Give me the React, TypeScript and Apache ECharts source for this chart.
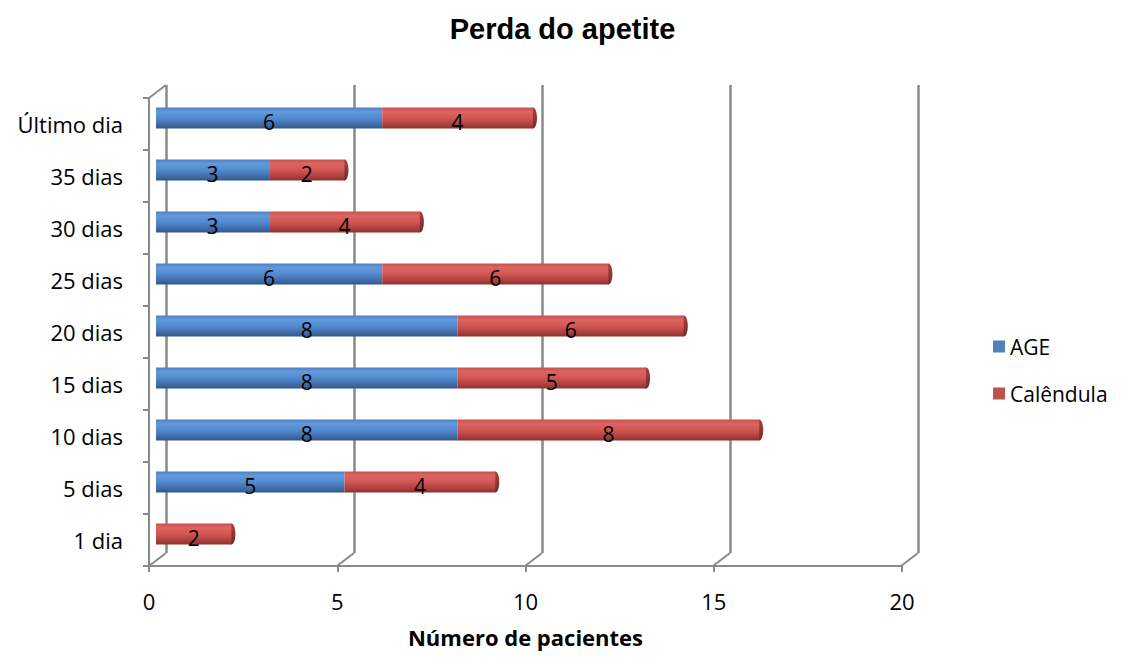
import React, { useEffect, useRef } from "react";
import * as echarts from "echarts";

// Categories listed bottom to top
const categories = [
  "1 dia",
  "5 dias",
  "10 dias",
  "15 dias",
  "20 dias",
  "25 dias",
  "30 dias",
  "35 dias",
  "Último dia",
];
const ageValues = [0, 5, 8, 8, 8, 6, 3, 3, 6];
const calendulaValues = [2, 4, 8, 5, 6, 6, 4, 2, 4];
const xTicks = [0, 5, 10, 15, 20];

const FONT = "'Open Sans', 'DejaVu Sans', sans-serif";
const WALL = "#8a8a8a";
// depth vector from the back wall to the front plane
const DEPTH = { dx: -17, dy: 13 };

const blueFill = new echarts.graphic.LinearGradient(0, 0, 0, 1, [
  { offset: 0, color: "#4d7fc0" },
  { offset: 0.2, color: "#6199dd" },
  { offset: 0.5, color: "#528acf" },
  { offset: 0.8, color: "#416dab" },
  { offset: 1, color: "#345789" },
]);
const redFill = new echarts.graphic.LinearGradient(0, 0, 0, 1, [
  { offset: 0, color: "#c4514e" },
  { offset: 0.2, color: "#de6461" },
  { offset: 0.5, color: "#d05754" },
  { offset: 0.8, color: "#ae403e" },
  { offset: 1, color: "#8a3230" },
]);
const capFill = new echarts.graphic.LinearGradient(0, 0, 0, 1, [
  { offset: 0, color: "#a3403e" },
  { offset: 0.5, color: "#8e3634" },
  { offset: 1, color: "#6e2927" },
]);

export default function App() {
  const ref = useRef<HTMLDivElement>(null);

  useEffect(() => {
    document.body.style.margin = "0";
    if (!ref.current) return;
    const chart = echarts.init(ref.current, null, { renderer: "svg" });

    const totals = categories.map((_, i) => [ageValues[i] + calendulaValues[i], i]);
    // floor connectors at each tick plus the top-left corner of the wall
    const wallEdges = xTicks.map((t) => [t, 0]).concat([[0, 1]]);

    const valueLabel = {
      show: true,
      position: "inside",
      color: "#000",
      fontFamily: FONT,
      fontSize: 21,
      offset: [0, 4],
      formatter: (p: any) => (p.value ? String(p.value) : ""),
    };

    chart.setOption({
      animation: false,
      backgroundColor: "#fff",
      title: {
        text: "Perda do apetite",
        left: "center",
        top: 9,
        textStyle: {
          fontFamily: "'Liberation Sans', Arial, sans-serif",
          fontWeight: "bold",
          fontSize: 29,
          color: "#000",
        },
      },
      legend: {
        orient: "vertical",
        left: 988,
        top: 331,
        itemWidth: 12,
        itemHeight: 12,
        itemGap: 26,
        icon: "rect",
        textStyle: { fontFamily: FONT, fontSize: 21, color: "#000" },
        data: [
          { name: "AGE", itemStyle: { color: "#4f81bd" } },
          { name: "Calêndula", itemStyle: { color: "#c0504d" } },
        ],
      },
      grid: [
        // back wall
        { left: 166, top: 85, width: 752, height: 468 },
        // front plane with the axes
        { left: 149, top: 98, width: 753, height: 468 },
        // cylinders
        { left: 156, top: 92, width: 754, height: 468 },
      ],
      xAxis: [
        {
          gridIndex: 0,
          type: "value",
          min: 0,
          max: 20,
          interval: 5,
          axisLine: { show: false },
          axisTick: { show: false },
          axisLabel: { show: false },
          splitLine: { show: true, lineStyle: { color: WALL, width: 2.5 } },
        },
        {
          gridIndex: 1,
          type: "value",
          min: 0,
          max: 20,
          interval: 5,
          axisLine: { show: true, lineStyle: { color: WALL, width: 2 } },
          axisTick: { show: true, length: 6, lineStyle: { color: WALL, width: 2 } },
          axisLabel: { color: "#000", fontFamily: FONT, fontSize: 22, margin: 24 },
          splitLine: { show: false },
          name: "Número de pacientes",
          nameLocation: "middle",
          nameGap: 60,
          nameTextStyle: { color: "#000", fontFamily: FONT, fontSize: 22, fontWeight: "bold" },
        },
        {
          gridIndex: 2,
          type: "value",
          min: 0,
          max: 20,
          show: false,
        },
      ],
      yAxis: [
        { gridIndex: 0, type: "value", min: 0, max: 1, show: false },
        {
          gridIndex: 1,
          type: "category",
          data: categories,
          axisLine: { show: true, lineStyle: { color: WALL, width: 2 } },
          axisTick: { show: true, length: 6, lineStyle: { color: WALL, width: 2 } },
          axisLabel: { color: "#000", fontFamily: FONT, fontSize: 22, margin: 26 },
        },
        { gridIndex: 2, type: "category", data: categories, show: false },
      ],
      series: [
        {
          type: "custom",
          xAxisIndex: 0,
          yAxisIndex: 0,
          silent: true,
          clip: false,
          data: wallEdges,
          renderItem: (_params: any, api: any) => {
            const p = api.coord([api.value(0), api.value(1)]);
            return {
              type: "line",
              shape: { x1: p[0], y1: p[1], x2: p[0] + DEPTH.dx, y2: p[1] + DEPTH.dy },
              style: { stroke: WALL, lineWidth: 2 },
            };
          },
        },
        {
          name: "AGE",
          type: "bar",
          xAxisIndex: 2,
          yAxisIndex: 2,
          stack: "total",
          barWidth: 21,
          data: ageValues,
          itemStyle: { color: blueFill },
          label: valueLabel,
        },
        {
          name: "Calêndula",
          type: "bar",
          xAxisIndex: 2,
          yAxisIndex: 2,
          stack: "total",
          barWidth: 21,
          data: calendulaValues,
          itemStyle: { color: redFill },
          label: valueLabel,
        },
        {
          type: "custom",
          xAxisIndex: 2,
          yAxisIndex: 2,
          silent: true,
          clip: false,
          data: totals,
          renderItem: (_params: any, api: any) => {
            const p = api.coord([api.value(0), api.value(1)]);
            return {
              type: "ellipse",
              shape: { cx: p[0], cy: p[1], rx: 4, ry: 10.5 },
              style: { fill: capFill },
            };
          },
        },
      ],
    });

    return () => chart.dispose();
  }, []);

  return <div ref={ref} style={{ width: 1125, height: 657 }} />;
}
